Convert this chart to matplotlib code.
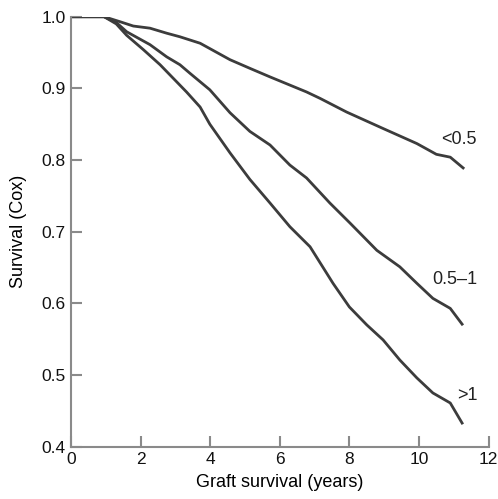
import matplotlib
matplotlib.use("Agg")
import matplotlib.pyplot as plt

# Cox survival curves by group
years_lt05 = [0.0, 0.95, 1.41, 1.79, 2.27, 2.75, 3.13, 3.71, 4.57, 5.14, 5.72, 6.77, 7.16, 7.92, 8.97, 9.94, 10.5, 10.9, 11.27]
surv_lt05 = [1.0, 1.0, 0.993, 0.987, 0.984, 0.977, 0.972, 0.963, 0.940, 0.928, 0.916, 0.895, 0.886, 0.867, 0.844, 0.823, 0.808, 0.804, 0.789]

years_05_1 = [0.0, 0.95, 1.3, 1.6, 2.27, 2.75, 3.13, 3.42, 3.99, 4.57, 5.14, 5.72, 6.29, 6.77, 7.44, 8.02, 8.79, 9.45, 9.94, 10.4, 10.9, 11.24]
surv_05_1 = [1.0, 1.0, 0.992, 0.979, 0.961, 0.944, 0.933, 0.921, 0.898, 0.866, 0.840, 0.821, 0.793, 0.775, 0.740, 0.712, 0.674, 0.651, 0.628, 0.607, 0.593, 0.571]

years_gt1 = [0.0, 0.95, 1.3, 1.6, 2.08, 2.56, 2.94, 3.32, 3.71, 3.99, 4.57, 5.14, 5.72, 6.29, 6.87, 7.53, 8.0, 8.5, 8.97, 9.45, 9.94, 10.4, 10.9, 11.24]
surv_gt1 = [1.0, 1.0, 0.990, 0.974, 0.954, 0.933, 0.914, 0.895, 0.874, 0.850, 0.810, 0.773, 0.740, 0.707, 0.679, 0.628, 0.595, 0.570, 0.549, 0.521, 0.496, 0.475, 0.461, 0.433]

labels = ["<0.5", "0.5\u20131", ">1"]
label_pos = [(11.16, 0.829), (11.03, 0.634), (11.38, 0.471)]

plt.rcParams["font.family"] = ["Liberation Sans", "DejaVu Sans"]

fig = plt.figure(figsize=(4.98, 4.99), dpi=100)
ax = fig.add_axes([0.1426, 0.1048, 0.8384, 0.8617])

line_color = "#3c3c3c"
for xs, ys in [(years_lt05, surv_lt05), (years_05_1, surv_05_1), (years_gt1, surv_gt1)]:
    ax.plot(xs, ys, color=line_color, lw=2.0, solid_joinstyle="round")

for text, (x, y) in zip(labels, label_pos):
    ax.text(x, y, text, fontsize=13, ha="center", va="center", color="#222222")

ax.set_xlim(0, 12)
ax.set_ylim(0.4, 1.0)
ax.set_xticks(range(0, 13, 2))
ax.set_yticks([0.4, 0.5, 0.6, 0.7, 0.8, 0.9, 1.0])
ax.set_yticklabels(["0.4", "0.5", "0.6", "0.7", "0.8", "0.9", "1.0"])

for side in ["top", "right"]:
    ax.spines[side].set_visible(False)
for side in ["left", "bottom"]:
    ax.spines[side].set_color("#8a8a8a")
    ax.spines[side].set_linewidth(1.5)

ax.tick_params(direction="in", length=8, width=1.5, color="#8a8a8a",
               labelsize=12.5, labelcolor="#111111", pad=4)

ax.set_xlabel("Graft survival (years)", fontsize=13, labelpad=5)
ax.set_ylabel("Survival (Cox)", fontsize=13, labelpad=10)

fig.savefig("out.png", dpi=100)
